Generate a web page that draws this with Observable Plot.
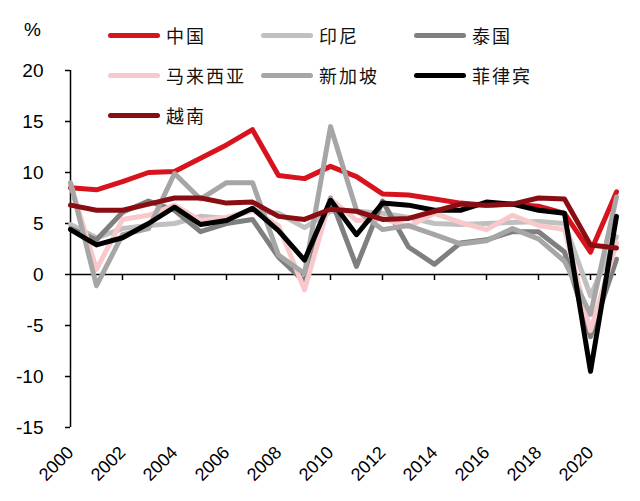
<!DOCTYPE html>
<html>
<head>
<meta charset="utf-8">
<script src="https://cdn.jsdelivr.net/npm/d3@7"></script>
<script src="https://cdn.jsdelivr.net/npm/@observablehq/plot@0.6"></script>
<style>
  body { margin: 0; background: #fff; }
  #wrap { position: relative; width: 640px; height: 501px; font-family: "Liberation Sans", Arial, sans-serif; }
  .unit { position: absolute; left: 24px; top: 19px; font-size: 19px; }
  .leg { position: absolute; display: flex; align-items: center; height: 24px; }
  .leg .sw { width: 52px; height: 5px; border-radius: 3px; }
  .leg .tx { margin-left: 6px; font-family: "Noto Sans CJK SC", sans-serif; font-size: 18px; letter-spacing: 2px; color: #111; }
</style>
</head>
<body>
<div id="wrap"><div class="unit">%</div></div>
<script>
const years = d3.range(2000, 2022);
const countries = ["中国", "印尼", "泰国", "马来西亚", "新加坡", "菲律宾", "越南"];
const colors = ["#d7141e", "#c0c0c0", "#7f7f7f", "#f8c8cb", "#a6a6a6", "#000000", "#8b0d14"];

const china       = [8.5, 8.3, 9.1, 10.0, 10.1, 11.4, 12.7, 14.2, 9.7, 9.4, 10.6, 9.6, 7.9, 7.8, 7.4, 7.0, 6.8, 6.9, 6.7, 6.0, 2.2, 8.1];
const indonesia   = [4.9, 3.6, 4.5, 4.8, 5.0, 5.7, 5.5, 6.3, 6.0, 4.6, 6.2, 6.2, 6.0, 5.6, 5.0, 4.9, 5.0, 5.1, 5.2, 5.0, -2.1, 3.7];
const thailand    = [4.5, 3.4, 6.1, 7.2, 6.3, 4.2, 5.0, 5.4, 1.7, -0.7, 7.5, 0.8, 7.2, 2.7, 1.0, 3.1, 3.4, 4.2, 4.2, 2.2, -6.1, 1.5];
const malaysia    = [8.9, 0.5, 5.4, 5.8, 6.8, 5.3, 5.6, 6.3, 4.8, -1.5, 7.4, 5.3, 5.5, 4.7, 6.0, 5.1, 4.4, 5.8, 4.8, 4.4, -5.5, 3.1];
const singapore   = [9.0, -1.1, 3.9, 4.5, 9.9, 7.4, 9.0, 9.0, 1.9, 0.1, 14.5, 6.3, 4.4, 4.8, 3.9, 3.0, 3.3, 4.5, 3.5, 1.3, -3.9, 7.6];
const philippines = [4.4, 2.9, 3.6, 5.0, 6.6, 4.9, 5.3, 6.5, 4.3, 1.4, 7.3, 3.9, 7.0, 6.8, 6.3, 6.3, 7.1, 6.9, 6.3, 6.0, -9.5, 5.7];
const vietnam     = [6.8, 6.3, 6.3, 6.9, 7.5, 7.5, 7.0, 7.1, 5.7, 5.4, 6.4, 6.2, 5.4, 5.5, 6.2, 6.9, 6.8, 6.9, 7.5, 7.4, 2.9, 2.6];

const seriesValues = [china, indonesia, thailand, malaysia, singapore, philippines, vietnam];
const yTicks = [-15, -10, -5, 0, 5, 10, 15, 20];
const xTicks = d3.range(2000, 2021, 2);

const rows = [];
countries.forEach((c, i) => years.forEach((y, j) => rows.push({country: c, year: y, value: seriesValues[i][j]})));

const chart = Plot.plot({
  width: 640,
  height: 501,
  marginLeft: 70,
  marginRight: 24,
  marginTop: 70,
  marginBottom: 74,
  style: {fontFamily: "Liberation Sans, Arial, sans-serif", background: "#fff", color: "#000"},
  x: {domain: [2000, 2021]},
  y: {domain: [-15, 20]},
  color: {domain: countries, range: colors},
  marks: [
    Plot.ruleY([0], {stroke: "#000", strokeWidth: 1.5}),
    Plot.ruleX(xTicks.slice(1), {x: d => d, y1: () => 0, y2: () => 0, insetBottom: -6, stroke: "#000", strokeWidth: 1.5}),
    Plot.ruleX([2000], {stroke: "#000", strokeWidth: 1.5}),
    Plot.axisY({ticks: yTicks, tickSize: 5, tickPadding: 22, fontSize: 19, label: null, tickFormat: d => String(d), strokeWidth: 1.5}),
    Plot.axisX({ticks: xTicks, tickSize: 0, tickPadding: 22, tickRotate: -45, fontSize: 18, label: null, tickFormat: d => String(d)}),
    Plot.line(rows, {x: "year", y: "value", z: "country", stroke: "country", strokeWidth: 5, strokeLinejoin: "round", strokeLinecap: "round"})
  ]
});

const wrap = document.getElementById("wrap");
wrap.appendChild(chart);

countries.forEach((c, i) => {
  const col = i % 3, row = Math.floor(i / 3);
  const d = document.createElement("div");
  d.className = "leg";
  d.style.left = (108 + col * 153) + "px";
  d.style.top = (23 + row * 40) + "px";
  d.innerHTML = `<div class="sw" style="background:${colors[i]}"></div><div class="tx">${c}</div>`;
  wrap.appendChild(d);
});
</script>
</body>
</html>
